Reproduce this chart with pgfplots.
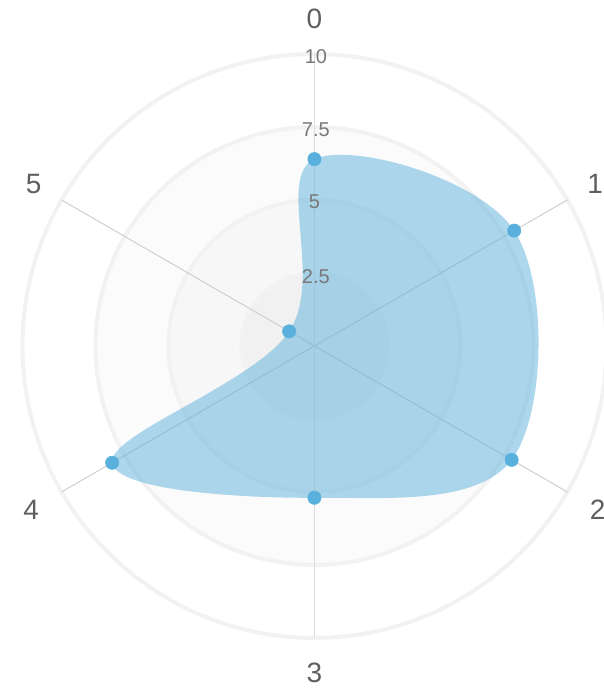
\documentclass[border=0pt]{standalone}
\usepackage{pgfplots}
\pgfplotsset{compat=1.18}
\usepackage{fontspec}
\setmainfont{Liberation Sans}
\definecolor{ptc}{RGB}{90,176,220}
\definecolor{lbl}{RGB}{95,95,95}
\definecolor{tck}{RGB}{120,120,120}
\definecolor{ringc}{RGB}{242,242,242}
\definecolor{spoke}{RGB}{205,205,205}

\begin{document}
\begin{tikzpicture}
\begin{axis}[
  x=21.9pt, y=21.9pt,
  xmin=-10.77, xmax=9.91, ymin=-11.75, ymax=11.85,
  hide axis, clip=false,
]
% background bands
\fill[black!1.5] (axis cs:0,0) circle[radius=7.5];
\fill[black!3] (axis cs:0,0) circle[radius=5];
\fill[black!5.5] (axis cs:0,0) circle[radius=2.5];
% rings
\draw[ringc, line width=3pt] (axis cs:0,0) circle[radius=2.5];
\draw[ringc, line width=3pt] (axis cs:0,0) circle[radius=5];
\draw[ringc, line width=3pt] (axis cs:0,0) circle[radius=7.5];
\draw[ringc, line width=3pt] (axis cs:0,0) circle[radius=10];
% spokes
\draw[black!13, line width=1.4pt] (axis cs:0,-10) -- (axis cs:0,10);
\draw[spoke, line width=0.7pt] (axis cs:{10*cos(30)},{10*sin(30)}) -- (axis cs:{10*cos(210)},{10*sin(210)});
\draw[spoke, line width=0.7pt] (axis cs:{10*cos(150)},{10*sin(150)}) -- (axis cs:{10*cos(-30)},{10*sin(-30)});

% data: (angle, value); 0 at top, clockwise
\addplot[draw=none, fill=ptc, fill opacity=0.5, smooth cycle, tension=0.62, data cs=polar]
  coordinates {(90,6.4) (30,7.9) (-30,7.8) (-90,5.2) (-150,8.0) (150,1.0)};
\addplot[ptc, only marks, mark=*, mark size=5pt, mark options={fill=ptc, draw=ptc}, data cs=polar]
  coordinates {(90,6.4) (30,7.9) (-30,7.8) (-90,5.2) (-150,8.0) (150,1.0)};

% tick labels
\node[tck, font=\fontsize{15}{16}\selectfont] at (axis cs:0.05,9.9) {10};
\node[tck, font=\fontsize{15}{16}\selectfont] at (axis cs:0.05,7.4) {7.5};
\node[tck, font=\fontsize{15}{16}\selectfont] at (axis cs:0,4.93) {5};
\node[tck, font=\fontsize{15}{16}\selectfont] at (axis cs:0.05,2.36) {2.5};
% category labels
\node[lbl, font=\fontsize{21}{22}\selectfont] at (axis cs:{11.2*cos(90)},{11.2*sin(90)}) {0};
\node[lbl, font=\fontsize{21}{22}\selectfont] at (axis cs:{11.1*cos(30)},{11.1*sin(30)}) {1};
\node[lbl, font=\fontsize{21}{22}\selectfont] at (axis cs:{11.2*cos(-30)},{11.2*sin(-30)}) {2};
\node[lbl, font=\fontsize{21}{22}\selectfont] at (axis cs:{11.2*cos(-90)},{11.2*sin(-90)}) {3};
\node[lbl, font=\fontsize{21}{22}\selectfont] at (axis cs:{11.2*cos(210)},{11.2*sin(210)}) {4};
\node[lbl, font=\fontsize{21}{22}\selectfont] at (axis cs:{11.1*cos(150)},{11.1*sin(150)}) {5};

\coordinate (bl) at (axis cs:-10.77,-11.75);
\coordinate (tr) at (axis cs:9.91,11.85);
\end{axis}
\pgfresetboundingbox
\useasboundingbox (bl) rectangle (tr);
\end{tikzpicture}
\end{document}
